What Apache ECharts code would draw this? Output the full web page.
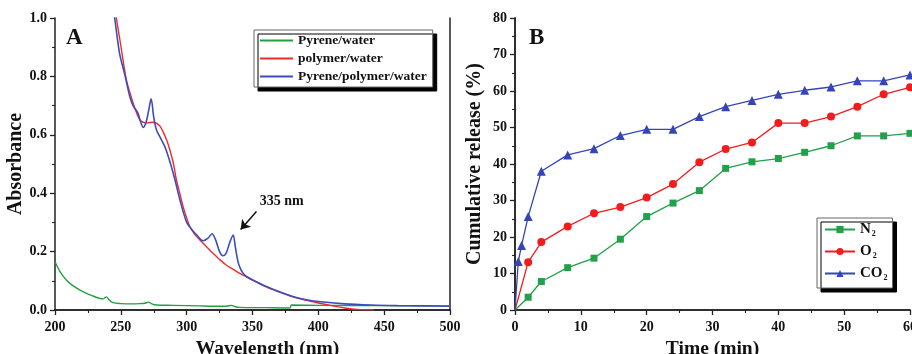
<!DOCTYPE html>
<html><head><meta charset="utf-8">
<script src="https://cdn.jsdelivr.net/npm/echarts@6/dist/echarts.min.js"></script>
<style>html,body{margin:0;padding:0;background:#fff}#c{width:912px;height:354px}</style>
</head><body><div id="c"></div>
<script>
// ---- Panel A data ----
const greenX = [200,204,208.6,213,218.7,224,228.9,233,236.5,239,241,244,250,259.3,265,268,271,274,277,290,310,320,330,334,337,340,360,378.5,379.5,400,450,500];
const greenY = [0.165,0.13,0.103,0.085,0.069,0.057,0.048,0.041,0.038,0.045,0.035,0.025,0.022,0.021,0.022,0.023,0.027,0.02,0.017,0.016,0.014,0.013,0.013,0.016,0.011,0.009,0.008,0.007,0.017,0.016,0.015,0.014];
const redX = [245.5,246.6,250,254.2,259.3,262,264.4,267,270,274,277,280,282,285,287.2,290,292.2,295,297.3,300,302.4,306,310,315,320,325,330,335,340,345,350,360,370,380,390,400,410,420,430,442];
const redY = [1.03,1.0,0.905,0.789,0.709,0.675,0.651,0.643,0.641,0.643,0.64,0.628,0.611,0.58,0.549,0.5,0.446,0.395,0.354,0.315,0.286,0.26,0.24,0.217,0.194,0.173,0.154,0.14,0.126,0.114,0.103,0.08,0.062,0.046,0.034,0.024,0.015,0.007,0.002,0.0];
const blueX = [244,245.3,249,253,256.8,259.3,263,265,267,269,271,273,275,277,280,284,290,295,300,304,308,312.5,316,319.3,322,325,327.5,330,333,335.3,337,339,341,343,346,350,360,370,380,390,400,420,440,460,480,500];
const blueY = [1.03,1.0,0.88,0.806,0.731,0.70,0.674,0.645,0.625,0.64,0.68,0.723,0.66,0.617,0.59,0.553,0.465,0.375,0.30,0.275,0.255,0.237,0.245,0.261,0.24,0.20,0.186,0.195,0.235,0.257,0.215,0.165,0.14,0.125,0.113,0.103,0.081,0.063,0.047,0.036,0.029,0.021,0.017,0.015,0.014,0.013];
const namesA = ['Pyrene/water','polymer/water','Pyrene/polymer/water'];
// ---- Panel B data ----
const timeN2 = [0,2,4,8,12,16,20,24,28,32,36,40,44,48,52,56,60];
const valN2  = [0,3.5,7.8,11.6,14.2,19.4,25.6,29.3,32.7,38.8,40.6,41.5,43.2,45.0,47.7,47.7,48.4];
const timeO2 = [0,2,4,8,12,16,20,24,28,32,36,40,44,48,52,56,60];
const valO2  = [0,13.1,18.6,22.9,26.5,28.2,30.8,34.5,40.5,44.1,45.9,51.2,51.2,53.0,55.7,59.1,61.0];
const timeCO2 = [0,0.5,1,2,4,8,12,16,20,24,28,32,36,40,44,48,52,56,60];
const valCO2  = [0,13.3,17.7,25.6,38.0,42.5,44.2,47.8,49.5,49.5,53.0,55.7,57.4,59.1,60.2,61.1,62.8,62.8,64.4];
const namesB = ['N2','O2','CO2'];

const pair = (xs, ys) => xs.map((x, i) => [x, ys[i]]);
// first point (origin) drawn without a marker, as in the reference
const pairB = (xs, ys) => xs.map((x, i) => i === 0 ? {value:[x, ys[i]], symbol:'none'} : [x, ys[i]]);
const F = 'Liberation Serif';
const axisLine = {show:true, lineStyle:{color:'#222', width:1.5}};
const tick = {show:true, inside:false, length:5, lineStyle:{color:'#222', width:1.3}};
const minor = {show:true, splitNumber:2, length:3, lineStyle:{color:'#222', width:1.1}};
const lbl = {color:'#111', fontFamily:F, fontWeight:'bold', fontSize:14};
const nameX = {color:'#111', fontFamily:F, fontWeight:'bold', fontSize:19.5};
const nameY = {color:'#111', fontFamily:F, fontWeight:'bold', fontSize:20};
const boxAxisX = (g) => ({type:'value', gridIndex:g, position:'top', axisLine, axisTick:{show:false}, axisLabel:{show:false}, splitLine:{show:false}});
const boxAxisY = (g) => ({type:'value', gridIndex:g, position:'right', axisLine, axisTick:{show:false}, axisLabel:{show:false}, splitLine:{show:false}});

const chart = echarts.init(document.getElementById('c'));
chart.setOption({
  animation:false,
  backgroundColor:'#fff',
  title:[
    {text:'A', left:61, top:22, textStyle:{fontFamily:F, fontWeight:'bold', fontSize:23, color:'#111'}},
    {text:'B', left:524, top:22, textStyle:{fontFamily:F, fontWeight:'bold', fontSize:23, color:'#111'}}
  ],
  grid:[
    {left:55, right:462, top:18, bottom:44, outerBoundsMode:'none', containLabel:false},
    {left:515, right:2, top:18, bottom:44, outerBoundsMode:'none', containLabel:false}
  ],
  xAxis:[
    {type:'value', gridIndex:0, min:200, max:500, interval:50, name:'Wavelength (nm)', nameLocation:'middle', nameGap:25,
     nameTextStyle:Object.assign({padding:[0,0,0,30]}, nameX), axisLine, axisTick:tick, minorTick:minor,
     axisLabel:Object.assign({margin:10}, lbl), splitLine:{show:false}},
    {type:'value', gridIndex:1, min:0, max:60, interval:10, name:'Time (min)', nameLocation:'middle', nameGap:25,
     nameTextStyle:nameX, axisLine, axisTick:tick, minorTick:minor,
     axisLabel:Object.assign({margin:10}, lbl), splitLine:{show:false}},
    Object.assign(boxAxisX(0), {min:200, max:500}),
    Object.assign(boxAxisX(1), {min:0, max:60})
  ],
  yAxis:[
    {type:'value', gridIndex:0, min:0, max:1, interval:0.2, name:'Absorbance', nameLocation:'middle', nameGap:27,
     nameTextStyle:nameY, axisLine, axisTick:tick, minorTick:minor,
     axisLabel:Object.assign({margin:8, formatter:v=>v.toFixed(1)}, lbl), splitLine:{show:false}},
    {type:'value', gridIndex:1, min:0, max:80, interval:10, name:'Cumulative release (%)', nameLocation:'middle', nameGap:30,
     nameTextStyle:nameY, axisLine, axisTick:tick, minorTick:minor,
     axisLabel:Object.assign({margin:8}, lbl), splitLine:{show:false}},
    Object.assign(boxAxisY(0), {min:0, max:1}),
    Object.assign(boxAxisY(1), {min:0, max:80})
  ],
  legend:[
    {data:namesA, orient:'vertical', left:254, top:30, padding:[3,6,3,6], itemGap:3,
     icon:'rect', itemWidth:33, itemHeight:2, backgroundColor:'#fff', borderColor:'#666', borderWidth:1,
     shadowColor:'#000', shadowBlur:0, shadowOffsetX:4, shadowOffsetY:4,
     textStyle:{fontFamily:F, fontWeight:'bold', fontSize:13.5, lineHeight:15, color:'#111'}},
    {data:namesB, orient:'vertical', left:817, top:218, padding:[4,5,6,7], itemGap:6,
     itemWidth:30, itemHeight:9, backgroundColor:'#fff', borderColor:'#666', borderWidth:1,
     shadowColor:'#000', shadowBlur:0, shadowOffsetX:4, shadowOffsetY:4,
     formatter:n => n === 'N2' ? '{b|N}{s|2}' : n === 'O2' ? '{b|O}{s|2}' : '{b|CO}{s|2}',
     textStyle:{fontFamily:F, fontWeight:'bold', fontSize:15, color:'#111',
       rich:{b:{fontFamily:F, fontWeight:'bold', fontSize:15, color:'#111'},
             s:{fontFamily:F, fontWeight:'bold', fontSize:8, color:'#111', padding:[9,0,0,1]}}}}
  ],
  series:[
    {name:namesA[0], type:'line', xAxisIndex:0, yAxisIndex:0, data:pair(greenX, greenY), symbol:'none', smooth:0.3,
     lineStyle:{color:'#22a040', width:1.4}, itemStyle:{color:'#22a040'}},
    {name:namesA[1], type:'line', xAxisIndex:0, yAxisIndex:0, data:pair(redX, redY), symbol:'none', smooth:0.3,
     lineStyle:{color:'#f22a2a', width:1.4}, itemStyle:{color:'#f22a2a'}},
    {name:namesA[2], type:'line', xAxisIndex:0, yAxisIndex:0, data:pair(blueX, blueY), symbol:'none', smooth:0.3,
     lineStyle:{color:'#3b4cc0', width:1.6}, itemStyle:{color:'#3b4cc0'},
     markLine:{silent:true, symbol:['none','arrow'], symbolSize:9, label:{show:false},
       lineStyle:{color:'#111', width:1.5, type:'solid'},
       data:[[{coord:[353,0.337]},{coord:[341,0.276]}]]},
     markPoint:{silent:true, symbol:'circle', symbolSize:0,
       data:[{coord:[352.5,0.372], label:{show:true, position:'right', distance:4, formatter:'335 nm',
         fontFamily:F, fontWeight:'bold', fontSize:14, color:'#111'}}]}},
    {name:namesB[0], type:'line', xAxisIndex:1, yAxisIndex:1, data:pairB(timeN2, valN2), symbol:'rect', symbolSize:7,
     lineStyle:{color:'#22a04a', width:1.3}, itemStyle:{color:'#22a04a'}},
    {name:namesB[1], type:'line', xAxisIndex:1, yAxisIndex:1, data:pairB(timeO2, valO2), symbol:'circle', symbolSize:8,
     lineStyle:{color:'#f21c1c', width:1.3}, itemStyle:{color:'#f21c1c'}},
    {name:namesB[2], type:'line', xAxisIndex:1, yAxisIndex:1, data:pairB(timeCO2, valCO2), symbol:'triangle', symbolSize:9,
     lineStyle:{color:'#3545b8', width:1.3}, itemStyle:{color:'#3545b8'}}
  ]
});
</script></body></html>
